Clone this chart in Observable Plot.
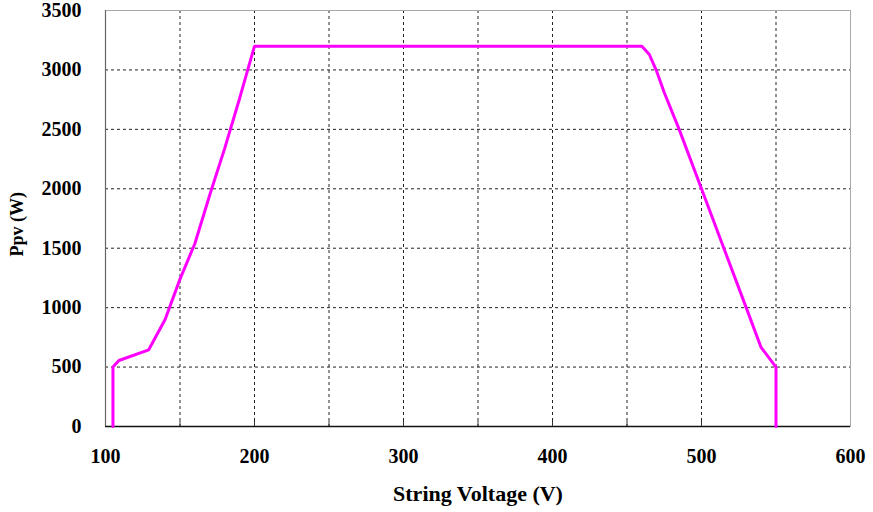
<!DOCTYPE html>
<html>
<head>
<meta charset="utf-8">
<script src="https://cdn.jsdelivr.net/npm/d3@7"></script>
<script src="https://cdn.jsdelivr.net/npm/@observablehq/plot@0.6"></script>
<style>
  html, body { margin: 0; padding: 0; background: #fff; }
</style>
</head>
<body>
<div id="chart"></div>
<script>
// Data
const voltage = [105, 105, 109, 129, 140, 150, 160, 170, 180, 190, 200, 460, 465, 470, 475, 485, 500, 515, 530, 540, 550, 550];
const power   = [0, 500, 555, 645, 900, 1240, 1540, 1950, 2340, 2760, 3200, 3200, 3130, 2985, 2810, 2500, 2000, 1500, 1000, 665, 500, 0];
const xTicks = [100, 200, 300, 400, 500, 600];
const xGrid = [150, 200, 250, 300, 350, 400, 450, 500, 550];
const yTicks = [0, 500, 1000, 1500, 2000, 2500, 3000, 3500];
const yGrid = [500, 1000, 1500, 2000, 2500, 3000];
const xTitle = "String Voltage (V)";
const yTitle = "Ppv (W)";

const data = voltage.map((v, i) => ({v, p: power[i]}));
const fmt = d3.format("d");

const chart = Plot.plot({
  width: 873,
  height: 512,
  marginLeft: 105,
  marginRight: 23,
  marginTop: 10,
  marginBottom: 86,
  style: {fontFamily: "'Liberation Serif', 'Times New Roman', serif", fontSize: "20px", fontWeight: "bold", color: "#000", background: "#fff"},
  x: {domain: [100, 600]},
  y: {domain: [0, 3500]},
  marks: [
    Plot.ruleX(xGrid, {stroke: "#222", strokeDasharray: "3,3", strokeWidth: 1}),
    Plot.ruleY(yGrid, {stroke: "#222", strokeDasharray: "3,3", strokeWidth: 1}),
    Plot.frame({stroke: "#a8a8a8", strokeWidth: 1}),
    Plot.ruleX([100], {stroke: "#666", strokeWidth: 1.2}),
    Plot.ruleY([0], {stroke: "#111", strokeWidth: 1.5}),
    Plot.axisX({ticks: xGrid, tickSize: -5, tickFormat: () => "", stroke: "#333", label: null}),
    Plot.axisX({ticks: xTicks, tickSize: 0, tickPadding: 22, fontSize: 20, tickFormat: fmt, label: null}),
    Plot.axisY({ticks: yTicks, tickSize: 0, tickPadding: 24, fontSize: 20, tickFormat: fmt, label: null}),
    Plot.text([xTitle], {frameAnchor: "bottom", dy: 74, fontSize: 22, fontWeight: "bold", fill: "#000"}),
    Plot.text([yTitle], {frameAnchor: "left", dx: -88, dy: 38, rotate: -90, fontSize: 18, fontWeight: "bold", fill: "#000"}),
    Plot.line(data, {x: "v", y: "p", stroke: "#ff00ff", strokeWidth: 3, strokeLinejoin: "miter"})
  ]
});
document.getElementById("chart").appendChild(chart);
</script>
</body>
</html>
